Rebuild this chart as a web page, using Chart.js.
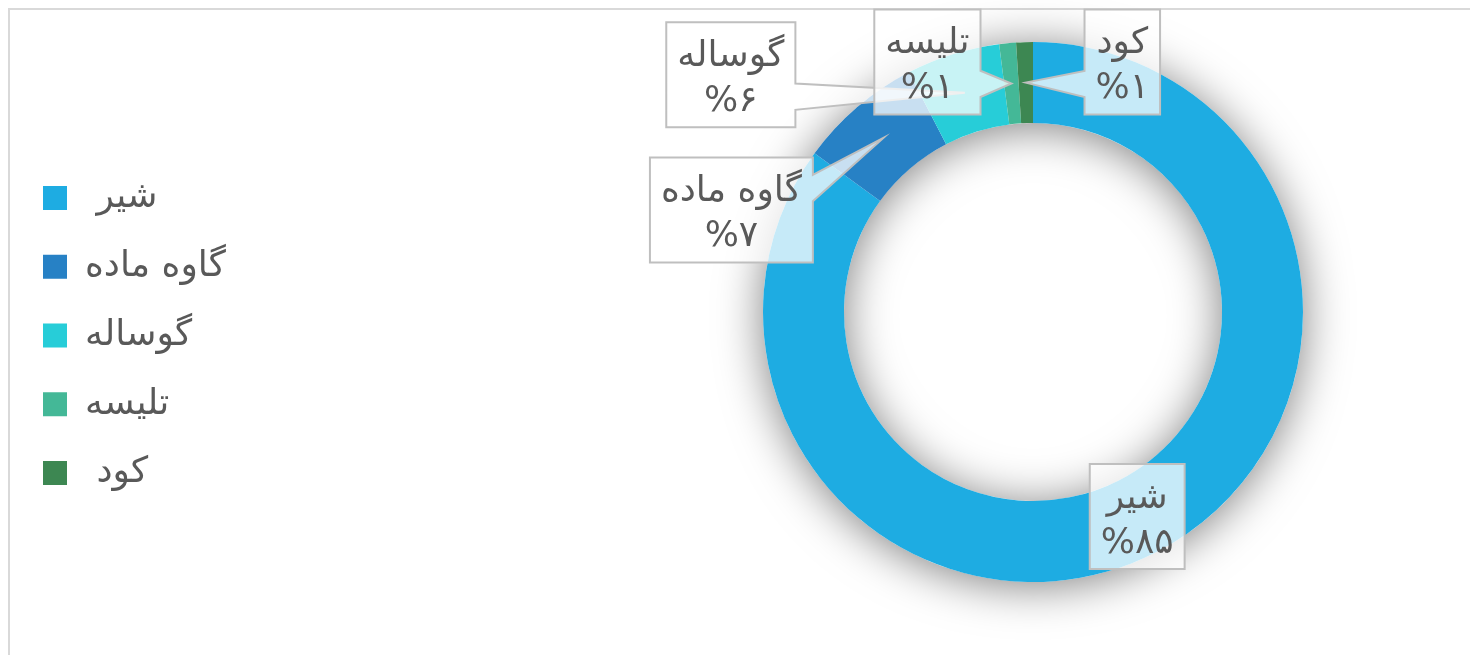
<!DOCTYPE html>
<html>
<head>
<meta charset="utf-8">
<script src="https://cdn.jsdelivr.net/npm/chart.js@4.4.1/dist/chart.umd.min.js"></script>
<style>
  html, body { margin: 0; padding: 0; background: #fff; overflow: hidden; }
  #wrap { position: relative; width: 1470px; height: 655px; }
</style>
</head>
<body>
<div id="wrap"><canvas id="chart"></canvas></div>
<script>
// slices, clockwise from 12 o'clock
var categories = [' شیر', 'گاوه ماده', 'گوساله', 'تلیسه', ' کود'];
var shares = [85.0, 7.4, 5.6, 1.0, 1.0];
var colors = ['#1eace2', '#2781c5', '#27cdd8', '#44b897', '#3d8752'];

// where each callout box sits, relative to the middle of its slice
var calloutOffsets = [[0, 0], [-152, 72], [-234, -18], [-84, -21.5], [96.5, -20.5]];

var textColor = '#595959';
var fontFamily = '"DejaVu Sans", sans-serif';
var fontSize = 36;

function faDigits(n) {
    return String(n).replace(/\d/g, function(d) { return '۰۱۲۳۴۵۶۷۸۹'[d]; });
}

Chart.defaults.font.family = fontFamily;

var frame = {
    id: 'frame',
    beforeDraw: function(chart) {
        var ctx = chart.ctx;
        ctx.save();
        ctx.fillStyle = '#fff';
        ctx.fillRect(0, 0, chart.width, chart.height);
        ctx.strokeStyle = '#d9d9d9';
        ctx.lineWidth = 2;
        ctx.beginPath();
        ctx.moveTo(9, chart.height);
        ctx.lineTo(9, 9);
        ctx.lineTo(chart.width, 9);
        ctx.stroke();
        ctx.restore();
    }
};

// legend takes the left part of the canvas, ring sits in the rest
var legendPlace = {
    id: 'legendPlace',
    afterInit: function(chart) {
        var legend = chart.legend;
        var fit = legend.fit;
        legend.fit = function() {
            fit.call(this);
            this.width = 585.75;
        };
    },
    afterLayout: function(chart) {
        chart.legend.top += 23.5;
        chart.legend.bottom += 23.5;
    }
};

var ringShadow = {
    id: 'ringShadow',
    beforeDatasetsDraw: function(chart) {
        var arc = chart.getDatasetMeta(0).data[0];
        if (!arc) return;
        var p = arc.getProps(['x', 'y', 'innerRadius', 'outerRadius'], true);
        var ctx = chart.ctx;
        ctx.save();
        ctx.shadowColor = 'rgba(0,0,0,0.5)';
        ctx.shadowBlur = 46;
        ctx.shadowOffsetY = 4;
        ctx.beginPath();
        ctx.arc(p.x, p.y, p.outerRadius, 0, Math.PI * 2);
        ctx.arc(p.x, p.y, p.innerRadius, 0, Math.PI * 2, true);
        ctx.fillStyle = '#fff';
        ctx.fill();
        ctx.restore();
    }
};

function calloutPath(ctx, x0, y0, w, h, tx, ty) {
    var x1 = x0 + w, y1 = y0 + h;
    var cx = x0 + w / 2, cy = y0 + h / 2;
    ctx.beginPath();
    if (tx >= x0 && tx <= x1 && ty >= y0 && ty <= y1) {
        ctx.rect(x0, y0, w, h);
        return;
    }
    var dx = (tx - cx) / w, dy = (ty - cy) / h;
    if (Math.abs(dx) > Math.abs(dy)) {
        var ya = y0 + h * (dy < 0 ? 2 / 12 : 7 / 12);
        var yb = ya + h * 3 / 12;
        ctx.moveTo(x0, y0);
        ctx.lineTo(x1, y0);
        if (dx > 0) { ctx.lineTo(x1, ya); ctx.lineTo(tx, ty); ctx.lineTo(x1, yb); }
        ctx.lineTo(x1, y1);
        ctx.lineTo(x0, y1);
        if (dx < 0) { ctx.lineTo(x0, yb); ctx.lineTo(tx, ty); ctx.lineTo(x0, ya); }
        ctx.closePath();
    } else {
        var xa = x0 + w * (dx < 0 ? 2 / 12 : 7 / 12);
        var xb = xa + w * 3 / 12;
        ctx.moveTo(x0, y0);
        if (dy < 0) { ctx.lineTo(xa, y0); ctx.lineTo(tx, ty); ctx.lineTo(xb, y0); }
        ctx.lineTo(x1, y0);
        ctx.lineTo(x1, y1);
        if (dy > 0) { ctx.lineTo(xb, y1); ctx.lineTo(tx, ty); ctx.lineTo(xa, y1); }
        ctx.lineTo(x0, y1);
        ctx.closePath();
    }
}

var callouts = {
    id: 'callouts',
    afterDatasetsDraw: function(chart) {
        var ctx = chart.ctx;
        var data = chart.data.datasets[0].data;
        var total = data.reduce(function(a, b) { return a + b; }, 0);
        ctx.save();
        ctx.font = fontSize + 'px ' + fontFamily;
        ctx.textAlign = 'center';
        ctx.textBaseline = 'middle';
        chart.getDatasetMeta(0).data.forEach(function(arc, i) {
            var tip = arc.getCenterPoint();
            var lines = [chart.data.labels[i].trim(), '%' + faDigits(Math.round(data[i] / total * 100))];
            var w = Math.max(ctx.measureText(lines[0]).width, ctx.measureText(lines[1]).width) + 22;
            var h = 105;
            var cx = tip.x + calloutOffsets[i][0];
            var cy = tip.y + calloutOffsets[i][1];
            calloutPath(ctx, cx - w / 2, cy - h / 2, w, h, tip.x, tip.y);
            ctx.fillStyle = 'rgba(255,255,255,0.75)';
            ctx.fill();
            ctx.lineWidth = 2;
            ctx.strokeStyle = '#bfbfbf';
            ctx.stroke();
            ctx.fillStyle = textColor;
            ctx.fillText(lines[0], cx, cy - 18);
            ctx.fillText(lines[1], cx, cy + 27);
        });
        ctx.restore();
    }
};

new Chart(document.getElementById('chart'), {
    type: 'doughnut',
    data: {
        labels: categories,
        datasets: [{
            data: shares,
            backgroundColor: colors,
            borderWidth: 0,
            hoverOffset: 0
        }]
    },
    options: {
        responsive: true,
        maintainAspectRatio: false,
        animation: false,
        cutout: '70%',
        layout: { padding: { left: 10.25, top: 42, bottom: 73, right: 0 } },
        plugins: {
            legend: {
                position: 'left',
                align: 'center',
                labels: {
                    boxWidth: 24,
                    boxHeight: 24,
                    padding: 32.75,
                    color: textColor,
                    font: { size: fontSize, family: fontFamily }
                }
            },
            tooltip: { enabled: false }
        }
    },
    plugins: [frame, legendPlace, ringShadow, callouts]
});
</script>
</body>
</html>
